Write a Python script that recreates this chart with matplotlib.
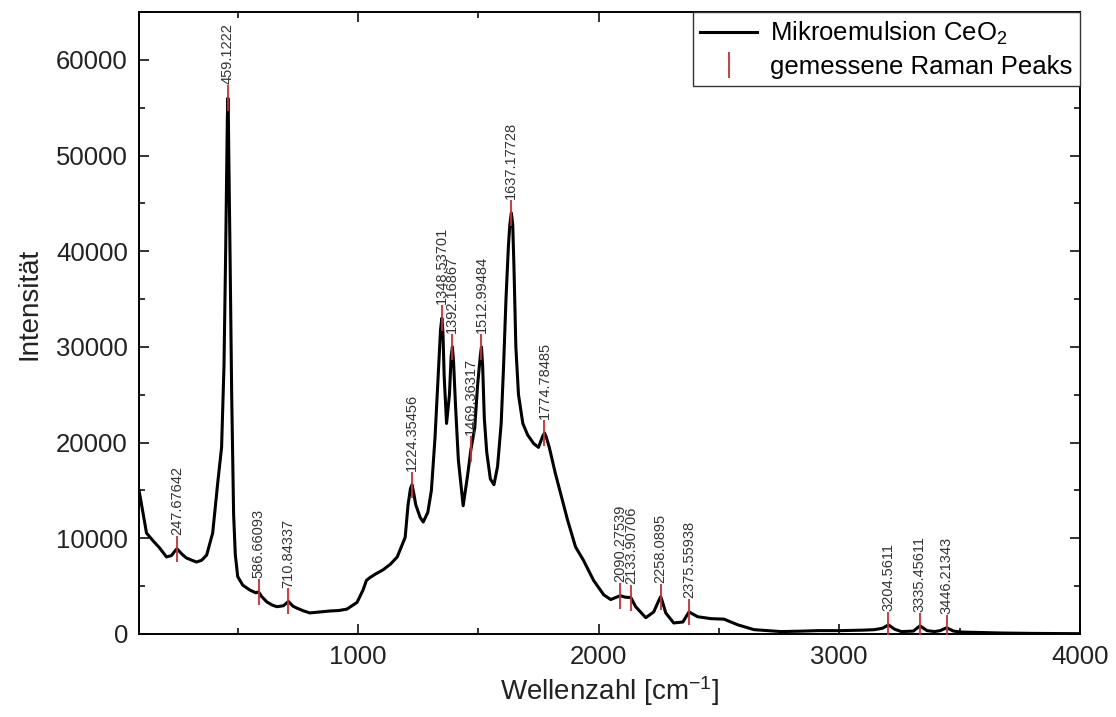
import numpy as np
import matplotlib
matplotlib.use("Agg")
import matplotlib.pyplot as plt
from matplotlib.ticker import MultipleLocator

plt.rcParams['font.family'] = ['Liberation Sans', 'DejaVu Sans']
plt.rcParams['mathtext.default'] = 'regular'

# Raman spectrum, values
wavenumber = [90, 121, 146, 175, 204, 225, 240, 247.7, 255, 270, 287, 310, 329, 350, 371, 396, 417,
              433, 443, 450, 455, 457, 459.1, 461, 463, 468, 475, 483, 490, 500, 521, 550, 575, 586.7,
              600, 621, 645, 663, 690, 710.8, 730, 746, 775, 800, 840, 883, 920, 954, 996,
              1021, 1035, 1050, 1075, 1104, 1135, 1163, 1196, 1208, 1218, 1224.4, 1231, 1240, 1258, 1271,
              1290, 1305, 1320, 1335, 1343, 1348.5, 1353, 1358, 1368, 1380, 1387, 1392.2, 1397, 1405,
              1417, 1437, 1455, 1469.4, 1485, 1497, 1508, 1513, 1518, 1525, 1535, 1550, 1565, 1580,
              1595, 1605, 1615, 1625, 1631, 1637.2, 1643, 1648, 1656, 1667, 1685, 1705, 1730, 1750,
              1768, 1775, 1782, 1795, 1820, 1842, 1871, 1904, 1937, 1979,
              2021, 2050, 2090.3, 2110, 2133.9, 2154, 2196, 2229, 2250, 2258.1, 2266, 2279, 2312, 2350,
              2375.6, 2412, 2467, 2521, 2579, 2646, 2675, 2758, 2850, 2912, 3008, 3100, 3146,
              3180, 3204.6, 3230, 3258, 3308, 3335.5, 3365, 3396, 3420, 3446.2, 3475, 3508,
              3600, 3675, 3800, 4000]
intensity = [15000, 10550, 9800, 9000, 8050, 8200, 8700, 8900, 8700, 8300, 7940, 7700, 7520, 7700, 8250, 10550, 15800,
             19500, 28000, 40000, 50000, 54000, 56000, 54500, 50000, 40000, 25000, 12500, 8300, 6000, 5100, 4600, 4300, 4400,
             3900, 3350, 3000, 2850, 2950, 3400, 2900, 2700, 2400, 2200, 2300, 2400, 2450, 2600, 3300,
             4600, 5600, 5900, 6300, 6700, 7300, 8050, 10100, 13500, 15200, 15600, 14800, 13500, 12200, 11700,
             12700, 15000, 20500, 28000, 31800, 33000, 31500, 27000, 22000, 25000, 29000, 30000, 28500, 24000,
             18200, 13400, 16500, 19300, 21500, 26000, 29000, 30000, 28000, 22500, 19000, 16200, 15600, 17500,
             22000, 28000, 35000, 40500, 42800, 44000, 42800, 38500, 30000, 25000, 22000, 20800, 19900, 19500,
             20700, 21000, 20600, 19500, 16800, 14700, 11900, 9100, 7700, 5600,
             4100, 3600, 4000, 3850, 3800, 2850, 1700, 2300, 3500, 3900, 3300, 2200, 1150, 1250,
             2300, 1800, 1600, 1550, 950, 450, 400, 250, 300, 350, 350, 400, 450,
             600, 950, 500, 250, 300, 850, 350, 250, 350, 650, 300, 200,
             150, 100, 60, 30]

# measured Raman peaks
peak_labels = ['247.67642', '459.1222', '586.66093', '710.84337', '1224.35456', '1348.53701',
               '1392.16867', '1469.36317', '1512.99484', '1637.17728', '1774.78485', '2090.27539',
               '2133.90706', '2258.0895', '2375.55938', '3204.5611', '3335.45611', '3446.21343']
peak_x = [float(s) for s in peak_labels]
peak_y = [8900, 56000, 4400, 3400, 15600, 33000, 30000, 19300, 30000, 44000, 21000, 4000,
          3800, 3900, 2300, 950, 850, 650]

fig = plt.figure(figsize=(11.16, 7.17), dpi=100)
ax = fig.add_axes([0.1246, 0.1158, 0.843, 0.8675])

ax.plot(wavenumber, intensity, color='black', lw=2.2, label='Mikroemulsion CeO$_2$', zorder=2,
        solid_joinstyle='round')
ax.plot(peak_x, peak_y, ls='none', marker='|', ms=19, mew=1.3, color='#d02a32',
        label='gemessene Raman Peaks', zorder=3)

for lab, x, y in zip(peak_labels, peak_x, peak_y):
    ax.annotate(lab, (x, y), xytext=(0, 10), textcoords='offset points', rotation=90,
                ha='center', va='bottom', fontsize=10.5, color='#333333')

ax.set_xlim(90, 4000)
ax.set_ylim(0, 65000)
ax.xaxis.set_major_locator(MultipleLocator(1000))
ax.xaxis.set_minor_locator(MultipleLocator(500))
ax.yaxis.set_major_locator(MultipleLocator(10000))
ax.yaxis.set_minor_locator(MultipleLocator(5000))
ax.tick_params(which='both', direction='in', top=True, right=True, width=1.3, labelsize=18.5,
               colors='#222222')
ax.tick_params(which='major', length=7, pad=8)
ax.tick_params(which='minor', length=4)
for s in ax.spines.values():
    s.set_linewidth(1.4)

ax.set_xlabel('Wellenzahl [cm$^{-1}$]', fontsize=20, color='#222222', labelpad=4)
ax.set_ylabel('Intensität', fontsize=20, color='#222222')
ax.yaxis.set_label_coords(-0.103, 0.53)

leg = ax.legend(loc='upper right', borderaxespad=0, fancybox=False, edgecolor='#333333',
                framealpha=1, fontsize=18.5, handlelength=2.2, borderpad=0.3,
                labelspacing=0.3, handletextpad=0.5)
leg.get_frame().set_linewidth(1.0)

plt.savefig('out.png', dpi=100)
